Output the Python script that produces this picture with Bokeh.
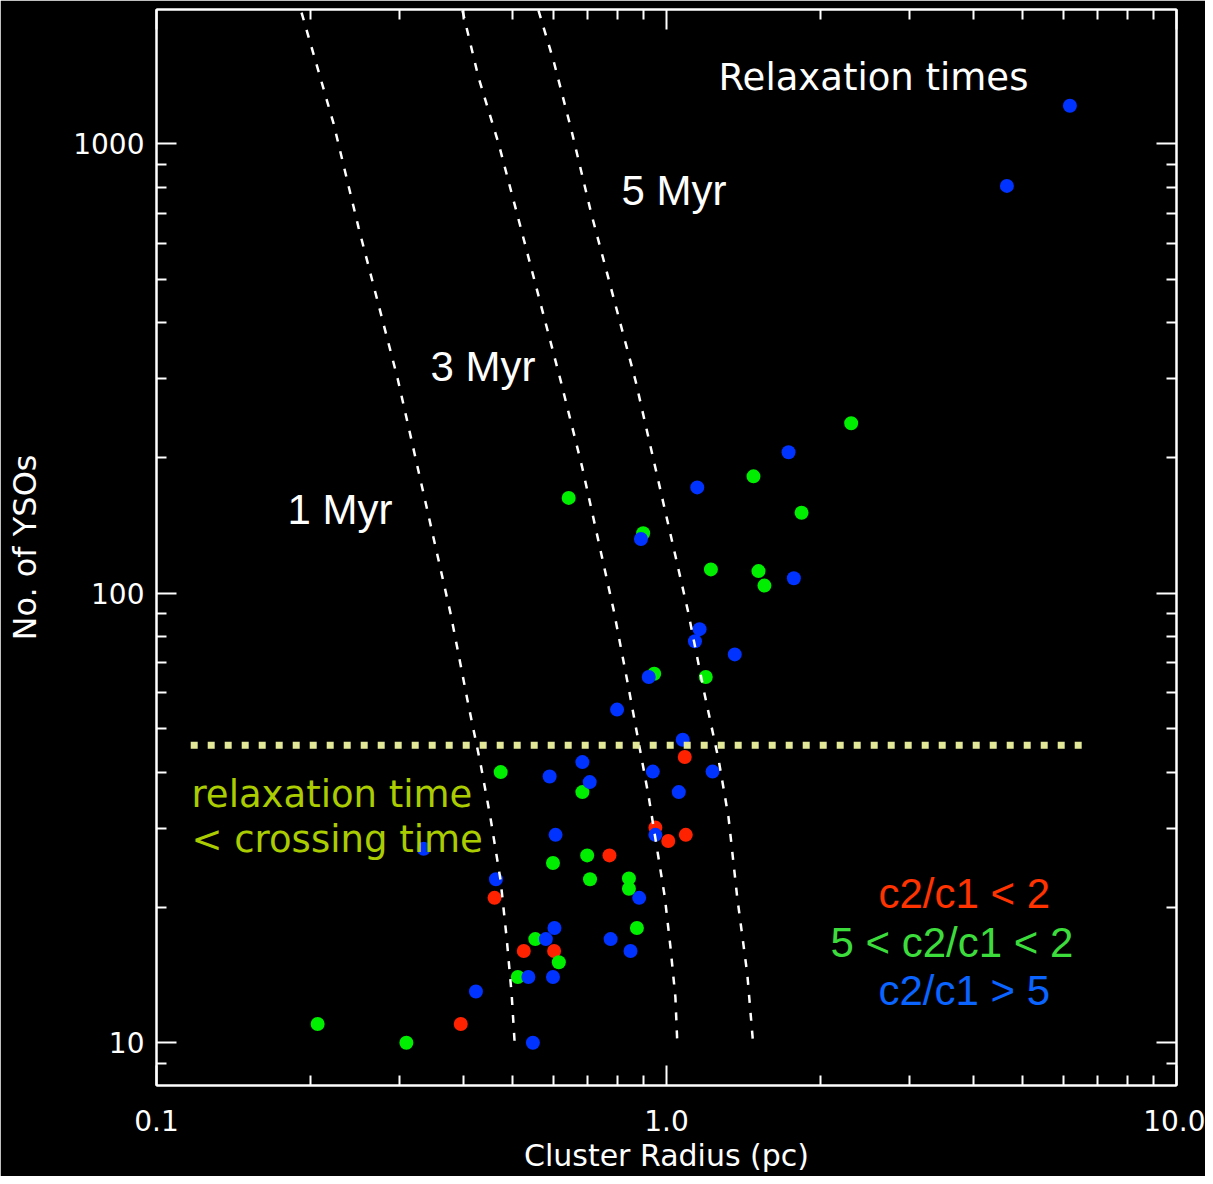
from bokeh.plotting import figure
from bokeh.models import LogAxis, FixedTicker, Label, Range1d, CustomJSTickFormatter
from bokeh.embed import file_html
from bokeh.resources import INLINE

# ---- data ----
red_r = [1.086, 0.951, 1.091, 1.008, 0.773, 0.460, 0.525, 0.602, 0.395]
red_n = [43.2, 30.1, 29.0, 28.1, 26.1, 21.0, 16.0, 16.0, 11.0]

green_r = [2.302, 1.481, 0.643, 1.840, 0.900, 1.222, 1.515, 1.556, 0.946, 1.194, 0.473, 0.684,
           0.699, 0.599, 0.708, 0.844, 0.844, 0.875, 0.553, 0.615, 0.511, 0.207, 0.309]
green_n = [239, 182, 163, 151, 136, 113, 112, 104, 66.2, 65.1, 40.0, 36.1,
           26.1, 25.1, 23.1, 23.2, 22.0, 18.0, 17.0, 15.1, 14.0, 11.0, 10.0]

blue_r = [6.18, 4.65, 1.735, 1.149, 0.891, 1.777, 1.161, 1.137, 1.361, 0.923,
          0.800, 1.076, 1.231, 0.940, 0.590, 0.684, 0.707, 1.057, 0.606, 0.951,
          0.334, 0.463, 0.884, 0.603, 0.580, 0.777, 0.850, 0.536, 0.599, 0.423, 0.547]
blue_n = [1215, 806, 206, 172, 132, 108, 83.2, 78.2, 73.1, 65.1,
          55.1, 47.2, 40.1, 40.1, 39.1, 42.1, 38.0, 36.1, 29.0, 29.0,
          27.0, 23.1, 21.0, 18.0, 17.0, 17.0, 16.0, 14.0, 14.0, 13.0, 10.0]

myr1_r = [0.1925, 0.2224, 0.2490, 0.2970, 0.3772, 0.409, 0.4318, 0.4518, 0.4728, 0.4858, 0.4969, 0.5035]
myr1_n = [1959, 1110, 651, 300.6, 90.2, 56.3, 41.8, 31.6, 22.97, 17.15, 12.87, 10.1]
myr3_r = [0.398, 0.428, 0.4685, 0.5117, 0.620, 0.6834, 0.788, 0.8434, 0.923, 0.9924, 1.018, 1.041, 1.0495]
myr3_n = [1980, 1404, 1002, 685, 297.5, 190.8, 91.6, 61.3, 35.2, 21.08, 16.32, 12.63, 10.1]
myr5_r = [0.561, 0.6004, 0.6513, 0.712, 0.8693, 1.101, 1.1834, 1.266, 1.323, 1.376, 1.44, 1.477]
myr5_n = [1980, 1532, 1070, 699.7, 297.5, 91.6, 60.8, 42.46, 31.76, 21.08, 14.24, 10.1]

cross_r = [0.1167, 6.54]
cross_n = [45.9, 45.9]

x_major = [0.1, 1, 10]
x_minor = [0.2, 0.3, 0.4, 0.5, 0.6, 0.7, 0.8, 0.9, 2, 3, 4, 5, 6, 7, 8, 9]
y_major = [10, 100, 1000]
y_minor = [9, 20, 30, 40, 50, 60, 70, 80, 90, 200, 300, 400, 500, 600, 700, 800, 900]

# ---- figure ----
p = figure(width=1205, height=1176, x_axis_type="log", y_axis_type="log",
           x_range=Range1d(0.1, 10), y_range=Range1d(8.03, 1990),
           output_backend="svg", toolbar_location=None,
           min_border_left=156, min_border_right=29, min_border_top=9, min_border_bottom=91,
           background_fill_color="black", border_fill_color="black")
p.grid.visible = False
p.outline_line_color = "white"
p.outline_line_width = 2

xt = FixedTicker(ticks=x_major, minor_ticks=x_minor)
yt = FixedTicker(ticks=y_major, minor_ticks=y_minor)


def style(ax, ticker, labels=True):
    ax.ticker = ticker
    ax.axis_line_color = "white"
    ax.axis_line_width = 2
    ax.major_tick_line_color = "white"
    ax.major_tick_line_width = 2
    ax.minor_tick_line_color = "white"
    ax.minor_tick_line_width = 2
    ax.major_tick_in = 20
    ax.major_tick_out = 0
    ax.minor_tick_in = 10
    ax.minor_tick_out = 0
    ax.major_label_text_color = "white"
    ax.major_label_text_font = "DejaVu Sans"
    ax.major_label_text_font_size = "28px"
    ax.axis_label_text_color = "white"
    ax.axis_label_text_font = "DejaVu Sans"
    ax.axis_label_text_font_style = "normal"
    ax.axis_label_text_font_size = "30px"
    if not labels:
        ax.major_label_text_font_size = "0px"
        ax.major_label_standoff = 0
        ax.formatter = CustomJSTickFormatter(code="return ''")


xa = p.xaxis[0]
style(xa, xt)
xa.formatter = CustomJSTickFormatter(code="return tick.toFixed(1)")
xa.axis_label = "Cluster Radius (pc)"
xa.major_label_standoff = 24
xa.axis_label_standoff = 4

ya = p.yaxis[0]
style(ya, yt)
ya.formatter = CustomJSTickFormatter(code="return tick.toFixed(0)")
ya.axis_label = "No. of YSOs"
ya.axis_label_text_font_size = "32px"
ya.major_label_standoff = 12
ya.axis_label_standoff = 26

top = LogAxis()
style(top, FixedTicker(ticks=x_major, minor_ticks=x_minor), labels=False)
p.add_layout(top, "above")
right = LogAxis()
style(right, FixedTicker(ticks=y_major, minor_ticks=y_minor), labels=False)
p.add_layout(right, "right")

# ---- points ----
p.scatter(red_r, red_n, marker="circle", size=14, fill_color="#ff2200", line_color=None)
p.scatter(green_r, green_n, marker="circle", size=14, fill_color="#00ee00", line_color=None)
p.scatter(blue_r, blue_n, marker="circle", size=14, fill_color="#0033ff", line_color=None)

# ---- relaxation time curves ----
for xs, ys in ((myr1_r, myr1_n), (myr3_r, myr3_n), (myr5_r, myr5_n)):
    p.line(xs, ys, line_color="white", line_width=2.5, line_dash="8 10")

p.line(cross_r, cross_n, line_color="#e3e898", line_width=7, line_dash="7 10")

# ---- texts ----
def lab(x, y, t, color, font, size):
    p.add_layout(Label(x=x, y=y, text=t, text_color=color, text_font=font, y_offset=14,
                       text_font_size=size, text_align="left", text_baseline="alphabetic"))

lab(1.265, 1307, "Relaxation times", "white", "DejaVu Sans", "37px")
lab(0.816, 732.8, "5 Myr", "white", "Liberation Sans", "42px")
lab(0.3446, 297, "3 Myr", "white", "Liberation Sans", "42px")
lab(0.1806, 142.8, "1 Myr", "white", "Liberation Sans", "42px")
lab(0.1171, 33.2, "relaxation time", "#aacc00", "DejaVu Sans", "37px")
lab(0.1171, 26.3, "< crossing time", "#aacc00", "DejaVu Sans", "37px")
lab(2.604, 19.97, "c2/c1 < 2", "#ff3300", "Liberation Sans", "42px")
lab(2.097, 15.56, "5 < c2/c1 < 2", "#3cdc3c", "Liberation Sans", "42px")
lab(2.604, 12.17, "c2/c1 > 5", "#0a64ff", "Liberation Sans", "42px")

open("out.html", "w").write(file_html(p, INLINE))
